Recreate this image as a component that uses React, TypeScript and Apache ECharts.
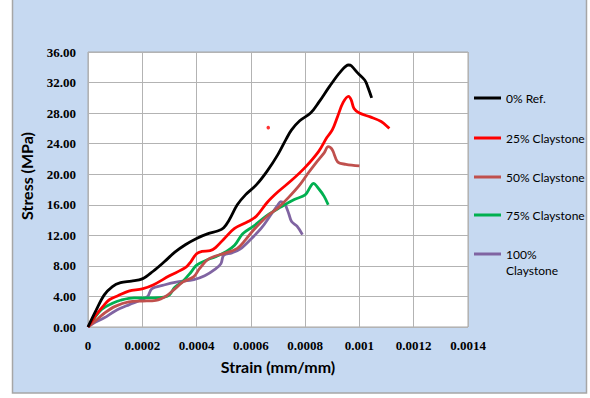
import React, { useEffect, useRef } from "react";
import * as echarts from "echarts";

const seriesNames = ["0% Ref.", "25% Claystone", "50% Claystone", "75% Claystone", "100% Claystone"];
const seriesColors = ["#000000", "#ff0000", "#c0504d", "#00b050", "#8064a2"];

const ref0: [number, number][] = [
  [0, 0], [0.00003, 2.2], [0.00006, 4.2], [0.00009, 5.3], [0.00012, 5.8], [0.00016, 6.0],
  [0.0002, 6.3], [0.00024, 7.3], [0.00028, 8.5], [0.00032, 9.8], [0.00036, 10.8], [0.0004, 11.6],
  [0.00044, 12.2], [0.00048, 12.6], [0.0005, 13.0], [0.00052, 14.0], [0.00055, 16.0], [0.00058, 17.3],
  [0.00062, 18.6], [0.00066, 20.4], [0.0007, 22.6], [0.00073, 24.6], [0.00075, 25.8], [0.00078, 27.0],
  [0.00082, 28.0], [0.00085, 29.4], [0.00089, 31.5], [0.00093, 33.4], [0.00096, 34.3], [0.00097, 34.2],
  [0.000995, 33.2], [0.00102, 32.3], [0.00103, 31.5], [0.001045, 30.0],
];

const clay25: [number, number][] = [
  [0, 0], [0.00003, 1.6], [0.00006, 2.9], [0.00008, 3.6], [0.00011, 4.1], [0.00015, 4.7],
  [0.0002, 5.0], [0.00024, 5.5], [0.0003, 6.7], [0.00036, 7.8], [0.00038, 8.6], [0.0004, 9.6],
  [0.00042, 9.9], [0.00045, 10.0], [0.00047, 10.4], [0.0005, 11.5], [0.00054, 12.9], [0.00059, 13.8],
  [0.00062, 14.5], [0.00066, 16.3], [0.0007, 17.7], [0.00075, 19.2], [0.0008, 20.9], [0.00085, 23.0],
  [0.00088, 24.8], [0.0009, 25.8], [0.00092, 27.6], [0.00094, 29.4], [0.00096, 30.2], [0.00097, 29.7],
  [0.00098, 28.6], [0.001, 28.0], [0.00104, 27.5], [0.00108, 26.9], [0.00111, 26.0],
];

const clay25Stray: [number, number][] = [[0.000664, 26.1]];

const clay50: [number, number][] = [
  [0, 0], [0.00003, 0.9], [0.00006, 1.8], [0.0001, 2.7], [0.00015, 3.3], [0.0002, 3.4],
  [0.00025, 3.5], [0.00029, 4.1], [0.00032, 5.0], [0.00035, 5.9], [0.00039, 6.6], [0.00041, 7.6],
  [0.00044, 8.8], [0.00047, 9.3], [0.0005, 9.6], [0.00055, 10.3], [0.00058, 11.4], [0.00061, 12.7],
  [0.00066, 14.5], [0.0007, 15.6], [0.00074, 17.0], [0.00078, 18.6], [0.00081, 20.1], [0.00084, 21.5],
  [0.00087, 22.8], [0.000885, 23.6], [0.0009, 23.2], [0.00092, 21.6], [0.00095, 21.3], [0.001, 21.1],
];

const clay75: [number, number][] = [
  [0, 0], [0.00002, 1.0], [0.00005, 2.3], [0.00009, 3.1], [0.00012, 3.5], [0.00017, 3.8],
  [0.00024, 3.8], [0.00028, 3.9], [0.0003, 4.2], [0.00032, 5.2], [0.00035, 6.0], [0.00038, 7.2],
  [0.0004, 8.1], [0.00044, 8.8], [0.00047, 9.2], [0.00051, 9.9], [0.00054, 10.7], [0.00057, 12.2],
  [0.00061, 13.2], [0.00066, 14.6], [0.00071, 15.7], [0.00076, 16.7], [0.0008, 17.3], [0.00082, 18.4],
  [0.00083, 18.8], [0.00085, 18.1], [0.00087, 17.1], [0.000885, 16.0],
];

const clay100: [number, number][] = [
  [0, 0], [0.00002, 0.5], [0.00006, 1.2], [0.0001, 2.1], [0.00015, 2.9], [0.0002, 3.6],
  [0.00022, 4.0], [0.000235, 5.0], [0.00028, 5.5], [0.00033, 5.9], [0.00039, 6.2], [0.00043, 6.7],
  [0.00047, 7.6], [0.00049, 8.3], [0.0005, 9.4], [0.00053, 9.7], [0.00056, 10.2], [0.0006, 11.5],
  [0.00064, 13.0], [0.00067, 14.5], [0.0007, 16.0], [0.00071, 16.4], [0.000725, 16.1], [0.00074, 14.8],
  [0.00075, 13.8], [0.00077, 13.2], [0.00079, 12.1],
];

const seriesData = [ref0, clay25, clay50, clay75, clay100];

const xAxisTitle = "Strain (mm/mm)";
const yAxisTitle = "Stress (MPa)";

const legendTops = [91, 131, 170, 208, 230];

export default function App() {
  const ref = useRef<HTMLDivElement>(null);

  useEffect(() => {
    if (!ref.current) return;
    const chart = echarts.init(ref.current, undefined, { renderer: "svg" });

    const tickFont = {
      fontFamily: "Liberation Serif",
      fontWeight: "bold" as const,
      fontSize: 13,
      color: "#000",
    };
    const titleFont = {
      fontFamily: "Lato",
      fontWeight: "bold" as const,
      fontSize: 16,
      color: "#000",
    };

    const lineSeries = seriesNames.map((name, i) => ({
      name,
      type: "line" as const,
      data: seriesData[i],
      smooth: 0.35,
      showSymbol: false,
      symbol: "none",
      color: seriesColors[i],
      lineStyle: { width: 2.8, color: seriesColors[i] },
      z: 10 - i,
    }));

    chart.setOption({
      animation: false,
      backgroundColor: "#ffffff",
      graphic: [
        {
          type: "rect",
          shape: { x: 12.5, y: -2, width: 574, height: 395 },
          style: { fill: "#c6d9f1", stroke: "#a6a6a6", lineWidth: 1.5 },
          z: -10,
          silent: true,
        },
      ],
      grid: {
        left: 88,
        top: 52,
        width: 380,
        height: 275,
        show: true,
        backgroundColor: "#ffffff",
        borderColor: "#a6a6a6",
        borderWidth: 1,
      },
      xAxis: {
        type: "value",
        min: 0,
        max: 0.0014,
        interval: 0.0002,
        name: xAxisTitle,
        nameLocation: "middle",
        nameGap: 31,
        nameTextStyle: titleFont,
        axisLine: { show: false },
        axisTick: { show: false },
        splitLine: { show: true, lineStyle: { color: "#b3b3b3", width: 1 } },
        axisLabel: {
          ...tickFont,
          margin: 12,
          formatter: (v: number) => (v === 0 ? "0" : String(+v.toFixed(4))),
        },
      },
      yAxis: {
        type: "value",
        min: 0,
        max: 36,
        interval: 4,
        name: yAxisTitle,
        nameLocation: "middle",
        nameGap: 54,
        nameTextStyle: { ...titleFont, padding: [0, 0, 0, 27] },
        axisLine: { show: false },
        axisTick: { show: false },
        splitLine: { show: true, lineStyle: { color: "#b3b3b3", width: 1 } },
        axisLabel: {
          ...tickFont,
          margin: 12,
          formatter: (v: number) => v.toFixed(2),
        },
      },
      legend: seriesNames.map((name, i) => ({
        show: true,
        orient: "vertical",
        left: 474,
        top: legendTops[i],
        padding: 0,
        itemWidth: 27,
        itemHeight: 3,
        icon: "rect",
        selectedMode: false,
        data: [i === 4 ? { name, textStyle: { lineHeight: 16 } } : name],
        formatter: i === 4 ? () => "\n100%\nClaystone" : "{name}",
        textStyle: { fontFamily: "Lato", fontSize: 12, color: "#000", lineHeight: 14 },
      })),
      series: [
        ...lineSeries,
        {
          name: "25% Claystone stray",
          type: "scatter",
          data: clay25Stray,
          symbol: "circle",
          symbolSize: 3.5,
          itemStyle: { color: "#ff0000" },
          z: 11,
        },
      ],
    });

    return () => chart.dispose();
  }, []);

  return (
    <div
      ref={ref}
      style={{ position: "absolute", left: 0, top: 0, width: 590, height: 398 }}
    />
  );
}
